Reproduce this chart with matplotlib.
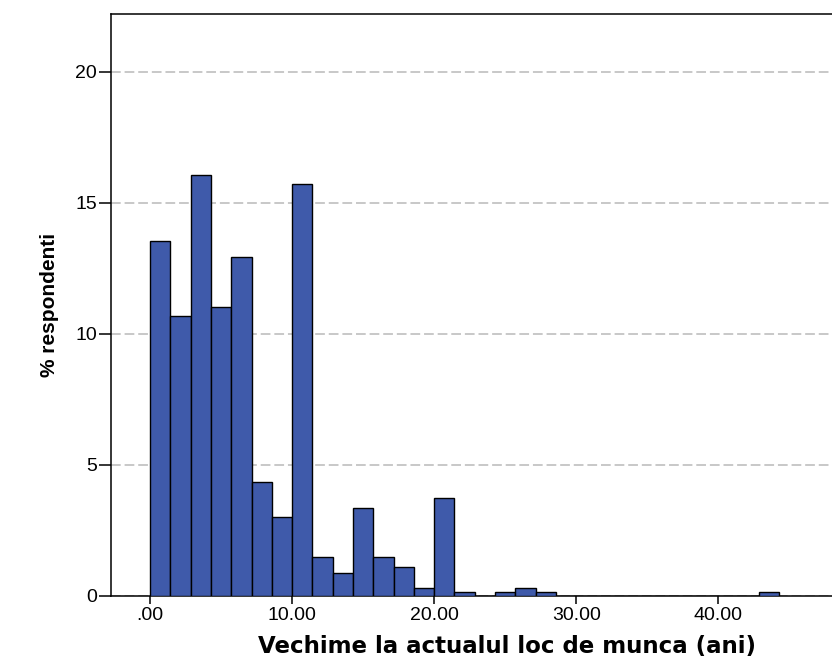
import numpy as np
import matplotlib.pyplot as plt

plt.rcParams['font.family'] = ['Liberation Sans', 'DejaVu Sans']

# histogram of years at current workplace, % of respondents per bin
bin_width = 10 / 7
heights = [13.55, 10.68, 16.05, 11.03, 12.95, 4.33, 3.02, 15.70, 1.47, 0.87,
           3.37, 1.47, 1.11, 0.29, 3.74, 0.15, 0.0, 0.15, 0.29, 0.15,
           0.0, 0.0, 0.0, 0.0, 0.0, 0.0, 0.0, 0.0, 0.0, 0.0, 0.15]
xticks = [0, 10, 20, 30, 40]
xticklabels = ['.00', '10.00', '20.00', '30.00', '40.00']
yticks = [0, 5, 10, 15, 20]

edges = np.arange(len(heights)) * bin_width

fig = plt.figure(figsize=(8.32, 6.63), dpi=100)
ax = fig.add_axes([111 / 832, 1 - 596 / 663, (903 - 111) / 832, (596 - 14) / 663])

ax.bar(edges, heights, width=bin_width, align='edge', color='#3f5aaa',
       edgecolor='black', linewidth=1.0, zorder=3)

ax.set_xlim(-2.75, 53)
ax.set_ylim(0, 22.2)
ax.set_xticks(xticks)
ax.set_xticklabels(xticklabels)
ax.set_yticks(yticks)
ax.yaxis.grid(True, linestyle=(0, (5, 2)), color='#c8c8c8', linewidth=1.4, zorder=0)
ax.set_axisbelow(True)

for s in ax.spines.values():
    s.set_linewidth(1.1)
ax.tick_params(axis='y', length=9, width=1.1, labelsize=14, pad=1)
ax.tick_params(axis='x', length=6, width=1.1, labelsize=14, pad=2)

ax.set_xlabel('Vechime la actualul loc de munca (ani)', fontsize=16.5, fontweight='bold',
              family='DejaVu Sans', labelpad=8)
ax.set_ylabel('% respondenti', fontsize=15, fontweight='bold', labelpad=12)

fig.savefig('out.png', dpi=100)
